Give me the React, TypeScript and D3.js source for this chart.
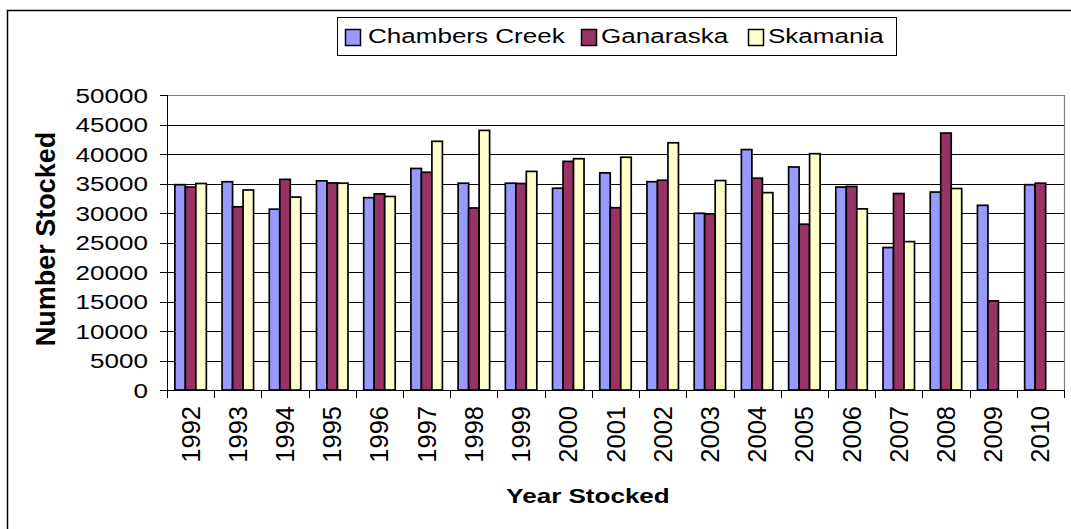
import React from "react";
import * as d3 from "d3";

const years = ["1992","1993","1994","1995","1996","1997","1998","1999","2000","2001","2002","2003","2004","2005","2006","2007","2008","2009","2010"];
const chambersCreek = [34800,35300,30650,35450,32600,37550,35050,35050,34200,36800,35300,29950,40750,37800,34400,24150,33550,31300,34800];
const ganaraska = [34400,31050,35700,35100,33250,36900,30850,35000,38750,30900,35550,29850,35900,28100,34500,33300,43550,15100,35050];
const skamania: (number | null)[] = [35000,33900,32700,35050,32800,42150,44000,37050,39200,39450,41900,35500,33450,40050,30700,25150,34150,null,null];
const seriesNames = ["Chambers Creek","Ganaraska","Skamania"];
const seriesColors = ["#9999FF","#993366","#FFFFCC"];
const yTicks = [0,5000,10000,15000,20000,25000,30000,35000,40000,45000,50000];

const W = 1071, H = 529;
const plot = { left: 167, right: 1064, top: 95, bottom: 390 };
const FONT = "Arial, 'Liberation Sans', sans-serif";
const SX = 1.24;

export default function App() {
  const x = d3.scaleBand<string>().domain(years).range([plot.left, plot.right]).paddingInner(0).paddingOuter(0);
  const y = d3.scaleLinear().domain([0, 50000]).range([plot.bottom, plot.top]);
  const cw = x.bandwidth();
  const bw = cw / 4.5;
  const off = bw * 0.75;
  const data = [chambersCreek, ganaraska, skamania];

  const legendItems = [
    { sx: 345, tx: 368 },
    { sx: 581, tx: 601 },
    { sx: 748, tx: 768 },
  ];

  return (
    <svg width={W} height={H} style={{ position: "absolute", left: 0, top: 0, background: "#fff" }} fontFamily={FONT}>
      <rect x={0} y={0} width={W} height={H} fill="#fff" />
      {/* chart frame */}
      <rect x={7.5} y={10.5} width={W + 20} height={H + 20} fill="none" stroke="#000" strokeWidth={1.5} />

      {/* gridlines */}
      {yTicks.map((t) => (
        <line key={"g" + t} x1={plot.left} x2={plot.right} y1={Math.round(y(t)) + 0.5} y2={Math.round(y(t)) + 0.5}
          stroke={t === 50000 ? "#808080" : "#000"} strokeWidth={1} />
      ))}
      <line x1={plot.right + 0.5} x2={plot.right + 0.5} y1={plot.top} y2={plot.bottom} stroke="#808080" strokeWidth={1.2} />

      {/* bars */}
      {data.map((vals, si) =>
        years.map((yr, i) => {
          const v = vals[i];
          if (v == null) return null;
          const bx = (x(yr) as number) + off + si * bw;
          return (
            <rect key={si + "-" + yr} x={bx} y={y(v)} width={bw} height={plot.bottom - y(v)}
              fill={seriesColors[si]} stroke="#000" strokeWidth={1.7} />
          );
        })
      )}

      {/* axes */}
      <line x1={plot.left + 0.5} x2={plot.left + 0.5} y1={plot.top} y2={plot.bottom} stroke="#000" strokeWidth={1} />
      <line x1={plot.left} x2={plot.right} y1={plot.bottom + 0.5} y2={plot.bottom + 0.5} stroke="#000" strokeWidth={1} />
      {yTicks.map((t) => (
        <g key={"t" + t}>
          <line x1={160} x2={plot.left} y1={Math.round(y(t)) + 0.5} y2={Math.round(y(t)) + 0.5} stroke="#000" />
          <text transform={`translate(148,${y(t) + 7.5}) scale(${SX},1)`} textAnchor="end" fontSize={21} fill="#000">{t}</text>
        </g>
      ))}
      {years.concat(["end"]).map((yr, i) => {
        const xx = Math.round(plot.left + i * cw) + 0.5;
        return <line key={"xt" + i} x1={xx} x2={xx} y1={plot.bottom} y2={plot.bottom + 8} stroke="#000" />;
      })}
      {years.map((yr) => {
        const cx = (x(yr) as number) + cw / 2;
        return (
          <text key={"xl" + yr} transform={`translate(${cx + 9},${406}) rotate(-90)`} textAnchor="end" fontSize={25.5} fill="#000">{yr}</text>
        );
      })}

      {/* axis titles */}
      <text transform={`translate(588,503) scale(${SX},1)`} textAnchor="middle" fontSize={21} fontWeight="bold" fill="#000">Year Stocked</text>
      <text transform={`translate(55,239) rotate(-90)`} textAnchor="middle" fontSize={27} fontWeight="bold" fill="#000">Number Stocked</text>

      {/* legend */}
      <rect x={337.5} y={17.5} width={559} height={38} fill="#fff" stroke="#000" strokeWidth={1} />
      {seriesNames.map((n, i) => (
        <g key={"lg" + n}>
          <rect x={legendItems[i].sx + 0.5} y={29.5} width={15} height={16} fill={seriesColors[i]} stroke="#000" strokeWidth={1.5} />
          <text transform={`translate(${legendItems[i].tx},43) scale(${SX},1)`} fontSize={21} fill="#000">{n}</text>
        </g>
      ))}
    </svg>
  );
}
